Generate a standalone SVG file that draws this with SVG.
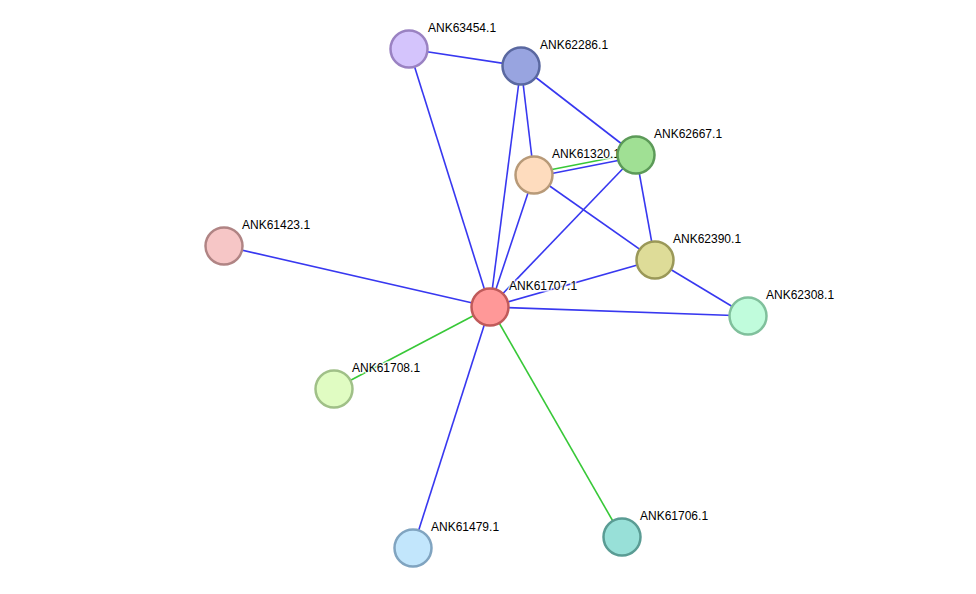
<svg xmlns="http://www.w3.org/2000/svg" width="976" height="594" viewBox="0 0 976 594">
<style>
.b{stroke:#3838f0;stroke-width:1.6;fill:none}
.g{stroke:#38c838;stroke-width:1.6;fill:none}
.n{stroke-width:2.5}
.t{font-family:"Liberation Sans",Arial,sans-serif;font-size:12px;fill:#000;paint-order:stroke;stroke:#fff;stroke-width:3px;stroke-opacity:0.8}
</style>
<rect width="976" height="594" fill="#fff"/>
<g id="edges">
<line class="b" x1="409" y1="49" x2="521" y2="66"/>
<line class="b" x1="409" y1="49" x2="490" y2="307"/>
<line class="b" x1="521" y1="66" x2="490" y2="307"/>
<line class="b" x1="521" y1="66" x2="534" y2="175"/>
<line class="b" x1="521" y1="66" x2="636" y2="155"/>
<line class="g" x1="534" y1="173" x2="636" y2="153"/>
<line class="b" x1="534" y1="177" x2="636" y2="157"/>
<line class="b" x1="534" y1="175" x2="490" y2="307"/>
<line class="b" x1="534" y1="175" x2="655" y2="260"/>
<line class="b" x1="636" y1="155" x2="490" y2="307"/>
<line class="b" x1="636" y1="155" x2="655" y2="260"/>
<line class="b" x1="655" y1="260" x2="490" y2="307"/>
<line class="b" x1="655" y1="260" x2="748" y2="316"/>
<line class="b" x1="490" y1="307" x2="748" y2="316"/>
<line class="b" x1="224" y1="246" x2="490" y2="307"/>
<line class="g" x1="334" y1="389" x2="490" y2="307"/>
<line class="b" x1="413" y1="548" x2="490" y2="307"/>
<line class="g" x1="622" y1="537" x2="490" y2="307"/>
</g>
<g id="ANK63454.1"><circle class="n" cx="409" cy="49" r="18.5" fill="#d4c4fc" stroke="#9a82c2"/><text class="t" x="428" y="32">ANK63454.1</text></g>
<g id="ANK62286.1"><circle class="n" cx="521" cy="66" r="18.5" fill="#98a4e0" stroke="#5a68a0"/><text class="t" x="540" y="49">ANK62286.1</text></g>
<g id="ANK61320.1"><circle class="n" cx="534" cy="175" r="18.5" fill="#fedcbe" stroke="#b89a78"/><text class="t" x="552" y="158">ANK61320.1</text></g>
<g id="ANK62667.1"><circle class="n" cx="636" cy="155" r="18.5" fill="#a0e094" stroke="#5c9a58"/><text class="t" x="654" y="138">ANK62667.1</text></g>
<g id="ANK61423.1"><circle class="n" cx="224" cy="246" r="18.5" fill="#f6c6c6" stroke="#b08484"/><text class="t" x="242" y="229">ANK61423.1</text></g>
<g id="ANK62390.1"><circle class="n" cx="655" cy="260" r="18.5" fill="#dedc98" stroke="#9a9858"/><text class="t" x="673" y="243">ANK62390.1</text></g>
<g id="ANK61707.1"><circle class="n" cx="490" cy="307" r="18.5" fill="#ff9898" stroke="#c05a5a"/><text class="t" x="509" y="290">ANK61707.1</text></g>
<g id="ANK62308.1"><circle class="n" cx="748" cy="316" r="18.5" fill="#c0fcdc" stroke="#80c09c"/><text class="t" x="766" y="299">ANK62308.1</text></g>
<g id="ANK61708.1"><circle class="n" cx="334" cy="389" r="18.5" fill="#e0fcc2" stroke="#a0c088"/><text class="t" x="352" y="372">ANK61708.1</text></g>
<g id="ANK61479.1"><circle class="n" cx="413" cy="548" r="18.5" fill="#c2e6fc" stroke="#80a4c0"/><text class="t" x="431" y="531">ANK61479.1</text></g>
<g id="ANK61706.1"><circle class="n" cx="622" cy="537" r="18.5" fill="#98e0d8" stroke="#5a9c94"/><text class="t" x="640" y="520">ANK61706.1</text></g>
</svg>
